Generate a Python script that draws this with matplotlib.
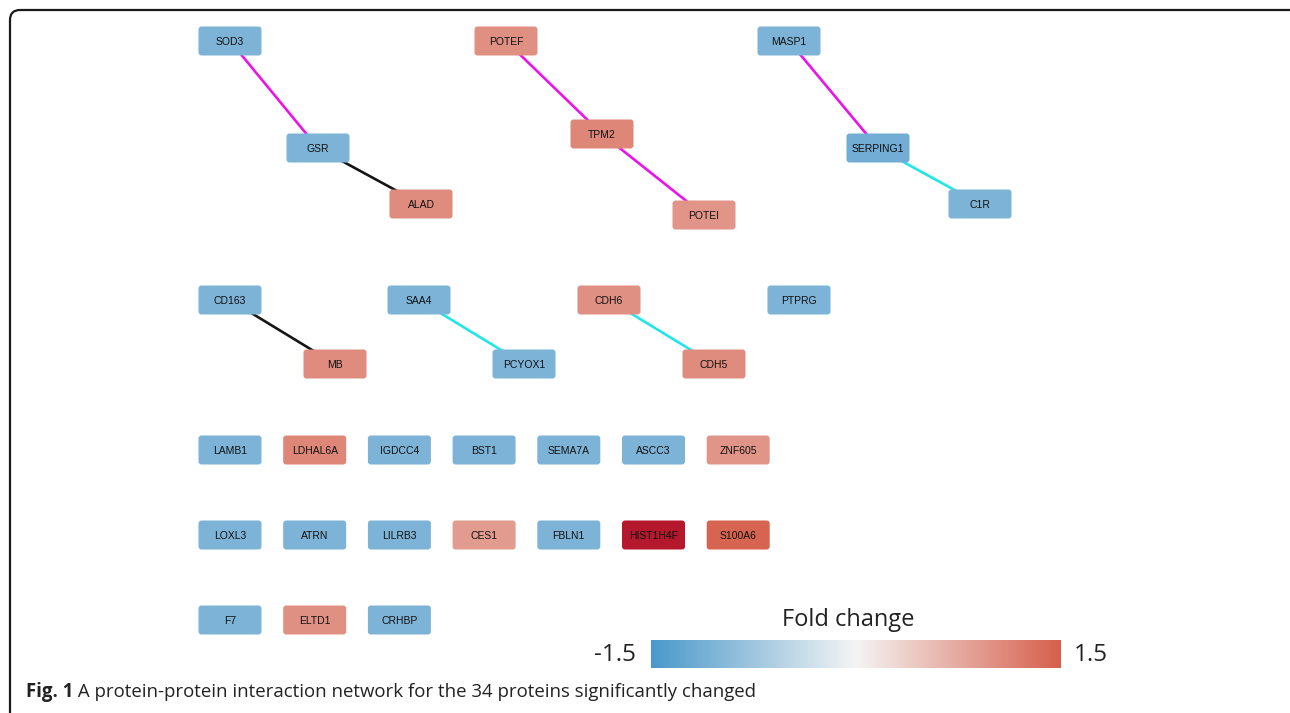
import matplotlib.pyplot as plt
from matplotlib.patches import FancyBboxPatch
from matplotlib.colors import LinearSegmentedColormap, Normalize
from matplotlib.colorbar import ColorbarBase

proteins = ["SOD3", "GSR", "ALAD", "POTEF", "TPM2", "POTEI", "MASP1", "SERPING1", "C1R",
            "CD163", "MB", "SAA4", "PCYOX1", "CDH6", "CDH5", "PTPRG",
            "LAMB1", "LDHAL6A", "IGDCC4", "BST1", "SEMA7A", "ASCC3", "ZNF605",
            "LOXL3", "ATRN", "LILRB3", "CES1", "FBLN1", "HIST1H4F", "S100A6",
            "F7", "ELTD1", "CRHBP"]
fold_change = [-1.05, -1.05, 1.05, 1.0, 1.1, 0.95, -1.05, -1.15, -1.05,
               -1.05, 1.05, -1.05, -1.05, 1.0, 1.05, -1.05,
               -1.05, 1.1, -1.05, -1.05, -1.05, -1.05, 0.95,
               -1.05, -1.05, -1.05, 0.9, -1.05, 2.5, 1.45,
               -1.05, 1.0, -1.05]

# interactions
edge_src = ["SOD3", "GSR", "POTEF", "TPM2", "MASP1", "SERPING1", "CD163", "SAA4", "CDH6"]
edge_dst = ["GSR", "ALAD", "TPM2", "POTEI", "SERPING1", "C1R", "MB", "PCYOX1", "CDH5"]
edge_type = ["magenta", "black", "magenta", "magenta", "magenta", "cyan", "black", "cyan", "cyan"]

caption_bold = "Fig. 1"
caption_text = " A protein-protein interaction network for the 34 proteins significantly changed"

# layout of the network (pixel positions in the figure)
layout = {
    "SOD3": (230, 41), "GSR": (318, 148), "ALAD": (421, 204),
    "POTEF": (506, 41), "TPM2": (602, 134), "POTEI": (704, 215),
    "MASP1": (789, 41), "SERPING1": (878, 148), "C1R": (980, 204),
    "CD163": (230, 300), "MB": (335, 364), "SAA4": (419, 300), "PCYOX1": (524, 364),
    "CDH6": (609, 300), "CDH5": (714, 364), "PTPRG": (799, 300),
}
grid_rows = [["LAMB1", "LDHAL6A", "IGDCC4", "BST1", "SEMA7A", "ASCC3", "ZNF605"],
             ["LOXL3", "ATRN", "LILRB3", "CES1", "FBLN1", "HIST1H4F", "S100A6"],
             ["F7", "ELTD1", "CRHBP"]]
for r, row in enumerate(grid_rows):
    for c, name in enumerate(row):
        layout[name] = (230 + c * 84.7, 450 + r * 85)

edge_colors = {"magenta": "#ec12ec", "black": "#151515", "cyan": "#22e6e6"}

cmap = LinearSegmentedColormap.from_list("fc", ["#4a98ca", "#f4f4f4", "#d65f4c"])
cmap.set_over("#b5172c")
cmap.set_under("#2a6fa8")
norm = Normalize(-1.5, 1.5)

W, H = 1290, 713
fig = plt.figure(figsize=(W / 100, H / 100), dpi=100)
ax = fig.add_axes([0, 0, 1, 1])
ax.set_xlim(0, W)
ax.set_ylim(H, 0)
ax.axis("off")

# outer frame (runs off the right and bottom edges)
ax.add_patch(FancyBboxPatch((10, 10), 1290, 714, boxstyle="round,pad=0,rounding_size=10",
                            fill=False, ec="#1a1a1a", lw=1.6, clip_on=True))

for s, d, t in zip(edge_src, edge_dst, edge_type):
    (x1, y1), (x2, y2) = layout[s], layout[d]
    ax.plot([x1, x2], [y1, y2], color=edge_colors[t], lw=1.9, zorder=1)

bw, bh = 63, 29
for name, fc in zip(proteins, fold_change):
    x, y = layout[name]
    ax.add_patch(FancyBboxPatch((x - bw / 2, y - bh / 2), bw, bh,
                                boxstyle="round,pad=0,rounding_size=3",
                                fc=cmap(norm(fc)), ec="none", zorder=2))
    ax.text(x, y + 1, name, ha="center", va="center", fontsize=7.5,
            family="Liberation Sans", color="#111111", zorder=3)

# colour legend
cax = fig.add_axes([651 / W, 1 - 668 / H, 410 / W, 28 / H])
cb = ColorbarBase(cax, cmap=LinearSegmentedColormap.from_list("leg", ["#4a98ca", "#f4f4f4", "#d65f4c"]),
                  norm=norm, orientation="horizontal")
cb.outline.set_visible(False)
cax.set_xticks([])
fig.text(848 / W, 1 - 620 / H, "Fold change", ha="center", va="center",
         fontsize=17, family="Open Sans", color="#222222")
fig.text(636 / W, 1 - 655 / H, "-1.5", ha="right", va="center",
         fontsize=17.5, family="Open Sans", color="#222222")
fig.text(1074 / W, 1 - 655 / H, "1.5", ha="left", va="center",
         fontsize=17.5, family="Open Sans", color="#222222")

t1 = ax.text(26, 697, caption_bold, fontsize=13.4, family="Open Sans", weight="bold",
             va="baseline", color="#222222")
fig.canvas.draw()
bb = t1.get_window_extent()
ax.text(26 + bb.width, 697, caption_text, fontsize=13.4, family="Open Sans",
        va="baseline", color="#222222")

fig.savefig("out.png", dpi=100)
